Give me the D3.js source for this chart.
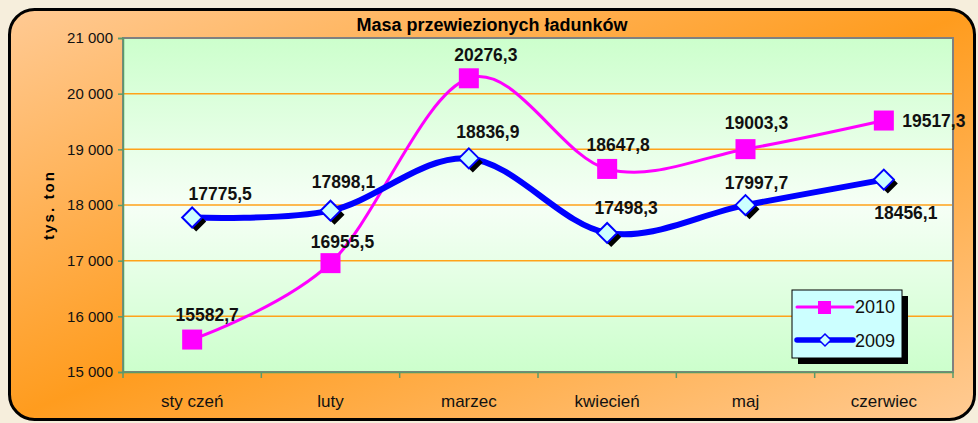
<!DOCTYPE html>
<html>
<head>
<meta charset="utf-8">
<script src="https://cdn.jsdelivr.net/npm/d3@7"></script>
<style>
  body { margin: 0; background: #f6eedc; }
  svg { display: block; font-family: Arial, "Liberation Sans", sans-serif; }
</style>
</head>
<body>
<svg id="chart" width="978" height="423"></svg>
<script>
const months = ["sty czeń", "luty", "marzec", "kwiecień", "maj", "czerwiec"];
const values2010 = [15582.7, 16955.5, 20276.3, 18647.8, 19003.3, 19517.3];
const values2009 = [17775.5, 17898.1, 18836.9, 17498.3, 17997.7, 18456.1];
const yTicks = [15000, 16000, 17000, 18000, 19000, 20000, 21000];
// label offsets relative to the point (dx, dy to baseline)
const labelOff2010 = [[15, -19], [12, -15], [17, -17], [11, -18], [11, -20], [50, 6]];
const labelOff2009 = [[28, -17], [13, -23], [19, -20], [19, -19], [11, -16], [22, 39]];

const plot = { left: 123, top: 38, right: 953, bottom: 372 };

const svg = d3.select("#chart");
const defs = svg.append("defs");

const outerGrad = defs.append("linearGradient").attr("id", "outerGrad")
  .attr("x1", 0).attr("y1", 0).attr("x2", 1).attr("y2", 1);
outerGrad.append("stop").attr("offset", "0%").attr("stop-color", "#ffca94");
outerGrad.append("stop").attr("offset", "50%").attr("stop-color", "#ff9c1e");
outerGrad.append("stop").attr("offset", "100%").attr("stop-color", "#ffcb94");

const plotGrad = defs.append("linearGradient").attr("id", "plotGrad")
  .attr("x1", 0).attr("y1", 0).attr("x2", 0).attr("y2", 1);
plotGrad.append("stop").attr("offset", "0%").attr("stop-color", "#ccffcc");
plotGrad.append("stop").attr("offset", "50%").attr("stop-color", "#f6fff6");
plotGrad.append("stop").attr("offset", "100%").attr("stop-color", "#ccffcc");

// outer frame
svg.append("rect")
  .attr("x", 9.5).attr("y", 9.5).attr("width", 965).attr("height", 410)
  .attr("rx", 25).attr("ry", 25)
  .attr("fill", "url(#outerGrad)")
  .attr("stroke", "#000").attr("stroke-width", 3);

const x = d3.scaleBand().domain(months).range([plot.left, plot.right]);
const y = d3.scaleLinear().domain([15000, 21000]).range([plot.bottom, plot.top]);
const cx = (d, i) => x(months[i]) + x.bandwidth() / 2;

svg.append("rect")
  .attr("x", plot.left).attr("y", plot.top)
  .attr("width", plot.right - plot.left).attr("height", plot.bottom - plot.top)
  .attr("fill", "url(#plotGrad)");

// gridlines
svg.append("g")
  .selectAll("line")
  .data(yTicks.slice(1, -1))
  .enter()
  .append("line")
  .attr("x1", plot.left).attr("x2", plot.right)
  .attr("y1", d => y(d)).attr("y2", d => y(d))
  .attr("stroke", "#ffa21a").attr("stroke-width", 1.5);

svg.append("rect")
  .attr("x", plot.left).attr("y", plot.top)
  .attr("width", plot.right - plot.left).attr("height", plot.bottom - plot.top)
  .attr("fill", "none").attr("stroke", "#808080").attr("stroke-width", 2);

// y axis
const fmt = d => d3.format(",")(d).replace(",", " ");
const yAxis = svg.append("g")
  .attr("transform", `translate(${plot.left},0)`)
  .call(d3.axisLeft(y).tickValues(yTicks).tickSize(5).tickFormat(fmt));
yAxis.select(".domain").attr("stroke", "#5a9a6a").attr("stroke-width", 1.5);
yAxis.selectAll(".tick line").attr("stroke", "#5a9a6a").attr("stroke-width", 1.5);
yAxis.selectAll(".tick text").attr("font-size", 15).attr("fill", "#111")
  .attr("font-family", "Arial, 'Liberation Sans', sans-serif").attr("x", -10);

// x axis
const xAxis = svg.append("g")
  .attr("transform", `translate(0,${plot.bottom})`)
  .call(d3.axisBottom(x).tickSize(0));
xAxis.select(".domain").attr("stroke", "#5a9a6a").attr("stroke-width", 1.5);
xAxis.selectAll(".tick text").attr("font-size", 17).attr("fill", "#111")
  .attr("font-family", "Arial, 'Liberation Sans', sans-serif")
  .attr("y", 35).attr("dy", 0);
svg.append("g").selectAll("line")
  .data(months.concat(["end"]))
  .enter().append("line")
  .attr("x1", (d, i) => plot.left + i * x.bandwidth())
  .attr("x2", (d, i) => plot.left + i * x.bandwidth())
  .attr("y1", plot.bottom).attr("y2", plot.bottom + 6)
  .attr("stroke", "#5a9a6a").attr("stroke-width", 1.5);

// titles
svg.append("text")
  .attr("x", 492).attr("y", 31)
  .attr("text-anchor", "middle").attr("font-size", 18).attr("font-weight", "bold")
  .text("Masa przewiezionych ładunków");
svg.append("text")
  .attr("transform", "translate(54,206) rotate(-90)")
  .attr("text-anchor", "middle").attr("font-size", 15).attr("font-weight", "bold")
  .attr("textLength", 68).attr("lengthAdjust", "spacing")
  .text("tys. ton");

// lines
const line = d3.line()
  .x(cx)
  .y(d => y(d))
  .curve(d3.curveCatmullRom.alpha(0));

svg.append("path").datum(values2010)
  .attr("d", line).attr("fill", "none")
  .attr("stroke", "#ff00ff").attr("stroke-width", 3);

svg.append("path").datum(values2009)
  .attr("d", line).attr("fill", "none")
  .attr("stroke", "#0000ff").attr("stroke-width", 6);

// markers 2009 (diamonds with shadow)
const diamond = s => `M0,${-s}L${s},0L0,${s}L${-s},0Z`;
svg.append("g").selectAll("path")
  .data(values2009).enter().append("path")
  .attr("d", diamond(10))
  .attr("transform", (d, i) => `translate(${cx(d, i) + 4},${y(d) + 4})`)
  .attr("fill", "#000");
svg.append("g").selectAll("path")
  .data(values2009).enter().append("path")
  .attr("d", diamond(10))
  .attr("transform", (d, i) => `translate(${cx(d, i)},${y(d)})`)
  .attr("fill", "#ccffff").attr("stroke", "#0000ff").attr("stroke-width", 2);

// markers 2010 (squares)
svg.append("g").selectAll("rect")
  .data(values2010).enter().append("rect")
  .attr("x", (d, i) => cx(d, i) - 10).attr("y", d => y(d) - 10)
  .attr("width", 20).attr("height", 20)
  .attr("fill", "#ff00ff");

// data labels
const fmtLabel = d => d.toFixed(1).replace(".", ",");
function drawLabels(vals, offs) {
  svg.append("g").selectAll("text")
    .data(vals).enter().append("text")
    .attr("x", (d, i) => cx(d, i) + offs[i][0])
    .attr("y", (d, i) => y(d) + offs[i][1])
    .attr("text-anchor", "middle")
    .attr("font-size", 17.5).attr("font-weight", "bold").attr("fill", "#111")
    .text(fmtLabel);
}
drawLabels(values2010, labelOff2010);
drawLabels(values2009, labelOff2009);

// legend
const lg = svg.append("g").attr("transform", "translate(792,290)");
lg.append("rect").attr("x", 6).attr("y", 6).attr("width", 110).attr("height", 68).attr("fill", "#000");
lg.append("rect").attr("x", 0).attr("y", 0).attr("width", 110).attr("height", 68)
  .attr("fill", "#ccffff").attr("stroke", "#000").attr("stroke-width", 1);
lg.append("line").attr("x1", 5).attr("x2", 61).attr("y1", 17).attr("y2", 17)
  .attr("stroke", "#ff00ff").attr("stroke-width", 3).attr("stroke-linecap", "round");
lg.append("rect").attr("x", 26).attr("y", 11).attr("width", 13).attr("height", 13).attr("fill", "#ff00ff");
lg.append("text").attr("x", 63).attr("y", 23).attr("font-size", 18).attr("fill", "#111").text("2010");
lg.append("line").attr("x1", 5).attr("x2", 61).attr("y1", 50).attr("y2", 50)
  .attr("stroke", "#0000ff").attr("stroke-width", 5.5).attr("stroke-linecap", "round");
lg.append("path").attr("d", diamond(6)).attr("transform", "translate(33,50)")
  .attr("fill", "#ccffff").attr("stroke", "#0000ff").attr("stroke-width", 1.5);
lg.append("text").attr("x", 63).attr("y", 57).attr("font-size", 18).attr("fill", "#111").text("2009");
</script>
</body>
</html>
